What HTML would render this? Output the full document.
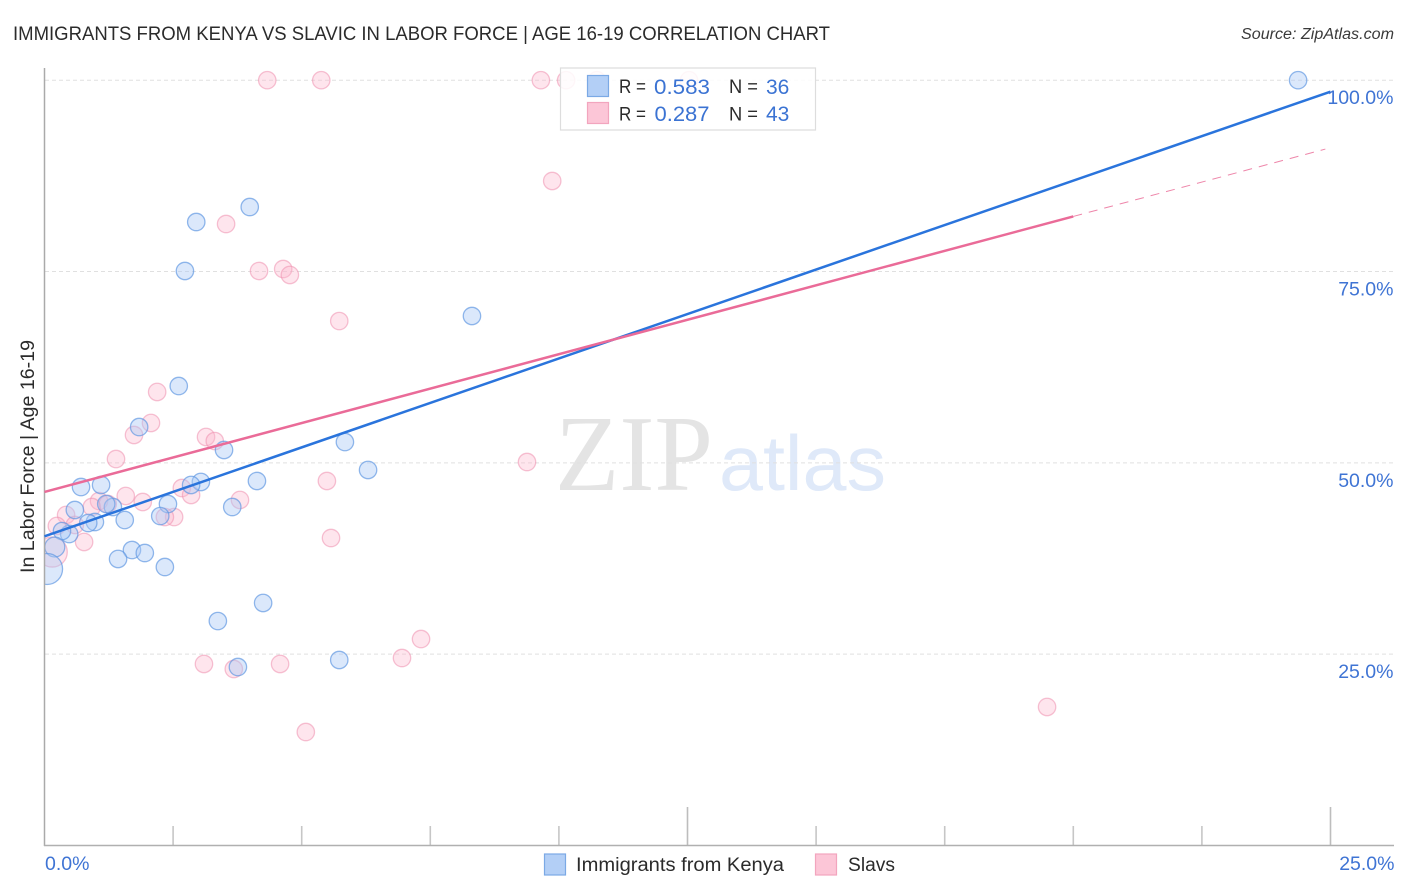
<!DOCTYPE html>
<html lang="en">
<head>
<meta charset="utf-8">
<title>Immigrants from Kenya vs Slavic in Labor Force | Age 16-19 Correlation Chart</title>
<style>
html,body{margin:0;padding:0;background:#fff;}
svg{display:block;font-family:"Liberation Sans",sans-serif;}
</style>
</head>
<body>
<svg id="chart" xmlns="http://www.w3.org/2000/svg" width="1406" height="892" viewBox="0 0 1406 892">
  <rect x="0" y="0" width="1406" height="892" fill="#ffffff"/>
  <text x="13" y="40" font-size="19.5" fill="#2b2b2b" textLength="817" lengthAdjust="spacingAndGlyphs">IMMIGRANTS FROM KENYA VS SLAVIC IN LABOR FORCE | AGE 16-19 CORRELATION CHART</text>
  <text x="1241" y="39" font-size="15.5" font-style="italic" fill="#3a3a3a" textLength="153" lengthAdjust="spacingAndGlyphs">Source: ZipAtlas.com</text>
  <g>
    <text x="555" y="490" font-family="'Liberation Serif',serif" font-size="108" fill="#e4e4e4" textLength="158" lengthAdjust="spacingAndGlyphs">ZIP</text>
    <text x="719" y="490" font-size="78" fill="#dfe9f9" textLength="167" lengthAdjust="spacingAndGlyphs">atlas</text>
  </g>
  <g id="grid"></g>
  <g id="pink-points"></g>
  <g id="blue-points"></g>
  <rect x="0" y="60" width="44" height="786" fill="#ffffff"/>
  <g id="axes"></g>
  <g id="trends"></g>
  <g id="labels"></g>
  <text transform="translate(34 573) rotate(-90)" font-size="19" fill="#2b2b2b" textLength="233" lengthAdjust="spacingAndGlyphs">In Labor Force | Age 16-19</text>

  <g>
    <rect x="560.5" y="68" width="255" height="62" fill="#ffffff" fill-opacity="0.86" stroke="#dddddd" stroke-width="1.2"/>
    <rect x="587.5" y="75.5" width="21" height="21" fill="#b3cff6" stroke="#7ba9e5" stroke-width="1.2"/>
    <rect x="587.5" y="102.5" width="21" height="21" fill="#fcc6d7" stroke="#f2a5be" stroke-width="1.2"/>
    <text x="619" y="93" font-size="19" fill="#2b2b2b" textLength="27" lengthAdjust="spacingAndGlyphs">R =</text>
    <text x="654" y="94" font-size="21" fill="#3b73d3" textLength="56" lengthAdjust="spacingAndGlyphs">0.583</text>
    <text x="729" y="93" font-size="19" fill="#2b2b2b" textLength="29" lengthAdjust="spacingAndGlyphs">N =</text>
    <text x="766" y="94" font-size="21" fill="#3b73d3">36</text>
    <text x="619" y="120.500" font-size="19" fill="#2b2b2b" textLength="27" lengthAdjust="spacingAndGlyphs">R =</text>
    <text x="654.500" y="121" font-size="21" fill="#3b73d3" textLength="55" lengthAdjust="spacingAndGlyphs">0.287</text>
    <text x="729" y="120.500" font-size="19" fill="#2b2b2b" textLength="29" lengthAdjust="spacingAndGlyphs">N =</text>
    <text x="766" y="121" font-size="21" fill="#3b73d3">43</text>
  </g>

  <g>
    <rect x="544.500" y="854" width="21" height="21" fill="#b3cff6" stroke="#7ba9e5" stroke-width="1.2"/>
    <text x="576" y="871" font-size="19" fill="#2b2b2b" textLength="208" lengthAdjust="spacingAndGlyphs">Immigrants from Kenya</text>
    <rect x="815.500" y="854" width="21" height="21" fill="#fcc6d7" stroke="#f2a5be" stroke-width="1.2"/>
    <text x="848" y="871" font-size="19" fill="#2b2b2b" textLength="47" lengthAdjust="spacingAndGlyphs">Slavs</text>
  </g>
</svg>
<script>
var kenyaX = [24.37,3.99,2.95,2.73,8.31,2.61,1.84,3.49,5.84,6.29,4.13,3.04,2.85,0.71,1.10,0.59,1.33,1.20,2.40,3.65,1.56,2.25,0.98,0.85,0.48,0.34,0.20,1.70,1.95,1.43,2.34,0.05,4.25,3.37,5.73,3.76];
var kenyaY = [100,83.43,81.47,75.07,69.19,60.04,54.68,51.68,52.72,49.07,47.63,47.50,47.11,46.84,47.11,43.84,44.23,44.62,44.62,44.23,42.53,43.05,42.27,42.14,40.70,41.09,39.00,38.61,38.22,37.44,36.39,36.13,31.69,29.33,24.24,23.32];
var kenyaWeight = [1,1,1,1,1,1,1,1,1,1,1,1,1,1,1,1,1,1,1,1,1,1,1,1,1,1,1.32,1,1,1,1,3.17,1,1,1,1];

var slavsX = [4.33,5.38,9.65,10.14,10.74,12.53,9.87,3.53,4.17,4.64,4.77,5.73,2.19,2.07,1.74,3.14,3.31,9.38,1.39,5.49,2.67,2.85,1.58,3.80,1.91,1.06,0.92,1.23,0.42,2.52,2.34,0.24,0.59,0.77,5.57,0.15,7.32,6.95,4.58,3.10,3.68,19.49,5.08];
var slavsY = [100,100,100,100,100,100,86.83,81.21,75.07,75.33,74.55,68.53,59.26,55.21,53.64,53.38,52.85,50.11,50.50,47.63,46.71,45.80,45.67,45.15,44.88,45.01,44.23,44.62,43.19,42.92,42.92,41.75,41.88,39.66,40.18,38.35,26.98,24.50,23.72,23.72,23.06,18.10,14.83];
var slavsWeight = [1,1,1,1,1,1,1,1,1,1,1,1,1,1,1,1,1,1,1,1,1,1,1,1,1,1,1,1,1,1,1,1,1,1,1,3,1,1,1,1,1,1,1];

var kenyaTrendX = [0,25];
var kenyaTrendY = [40.4,98.5];
var slavsTrendX = [0,20];
var slavsTrendY = [46.2,82.2];
var slavsDashX = [20,24.9];
var slavsDashY = [82.2,91];

var gridValues = [25,50,75,100];
var yTickLabels = ["25.0%","50.0%","75.0%","100.0%"];
var xMinorTicks = [2.5,5,7.5,10,15,17.5,20,22.5];
var xMajorTicks = [12.5,25];
var xTickValues = [0,25];
var xTickLabels = ["0.0%","25.0%"];

var NS = "http://www.w3.org/2000/svg";
function sx(v){ return 44.5 + v * 51.44; }
function sy(v){ return 845.5 - v * 7.653; }
function sr(w){ return 8.7 * Math.sqrt(w); }

function make(tag, parentId, props){
  var el = document.createElementNS(NS, tag);
  for (var k in props) { el.setAttribute(k, props[k]); }
  document.getElementById(parentId).appendChild(el);
  return el;
}

gridValues.forEach(function(v){
  var el = make("line", "grid", {x1:45, x2:1394, y1:sy(v), y2:sy(v), stroke:"#e0e0e0", "stroke-width":1, "stroke-dasharray":"4 3"});
  
  
});

xMinorTicks.forEach(function(v){
  var el = make("line", "axes", {x1:sx(v), x2:sx(v), y1:826, y2:845.5, stroke:"#c6c6c6", "stroke-width":1.6});
  
  
});
xMajorTicks.forEach(function(v){
  var el = make("line", "axes", {x1:sx(v), x2:sx(v), y1:807, y2:845.5, stroke:"#bdbdbd", "stroke-width":1.6});
  
  
});
var yAxis = make("line", "axes", {x1:44.5, x2:44.5, y1:68, y2:846, stroke:"#aaaaaa", "stroke-width":1.5});


var xAxis = make("line", "axes", {x1:44, x2:1394, y1:845.5, y2:845.5, stroke:"#b0b0b0", "stroke-width":1.5});



slavsX.forEach(function(x, i){
  var el = make("circle", "pink-points", {cx:sx(x), cy:sy(slavsY[i]), r:sr(slavsWeight[i]), fill:"#fbb6cc", "fill-opacity":0.36, stroke:"#ef8fae", "stroke-opacity":0.55, "stroke-width":1.3});
  
  
});
kenyaX.forEach(function(x, i){
  var el = make("circle", "blue-points", {cx:sx(x), cy:sy(kenyaY[i]), r:sr(kenyaWeight[i]), fill:"#a9c9f5", "fill-opacity":0.42, stroke:"#5e97e2", "stroke-opacity":0.68, "stroke-width":1.3});
  
  
});

var kenyaLine = make("line", "trends", {x1:sx(kenyaTrendX[0]), y1:sy(kenyaTrendY[0]), x2:sx(kenyaTrendX[1]), y2:sy(kenyaTrendY[1]), stroke:"#2a74dc", "stroke-width":2.5});


var slavsLine = make("line", "trends", {x1:sx(slavsTrendX[0]), y1:sy(slavsTrendY[0]), x2:sx(slavsTrendX[1]), y2:sy(slavsTrendY[1]), stroke:"#ea6b98", "stroke-width":2.5});


var slavsDash = make("line", "trends", {x1:sx(slavsDashX[0]), y1:sy(slavsDashY[0]), x2:sx(slavsDashX[1]), y2:sy(slavsDashY[1]), stroke:"#ee86aa", "stroke-width":1, "stroke-dasharray":"9 7"});



gridValues.forEach(function(v, i){
  var el = make("text", "labels", {x:1393.5, y:sy(v) + 24, "text-anchor":"end", "font-size":19.5, fill:"#3f74d4"});
  
  
  el.textContent = yTickLabels[i];
});
xTickValues.forEach(function(v, i){
  var el = make("text", "labels", {x: i === 0 ? sx(v) + 0.5 : sx(v) + 64, y:870, "text-anchor": i === 0 ? "start" : "end", "font-size":19.5, fill:"#3f74d4"});
  
  
  el.textContent = xTickLabels[i];
});
</script>
</body>
</html>
